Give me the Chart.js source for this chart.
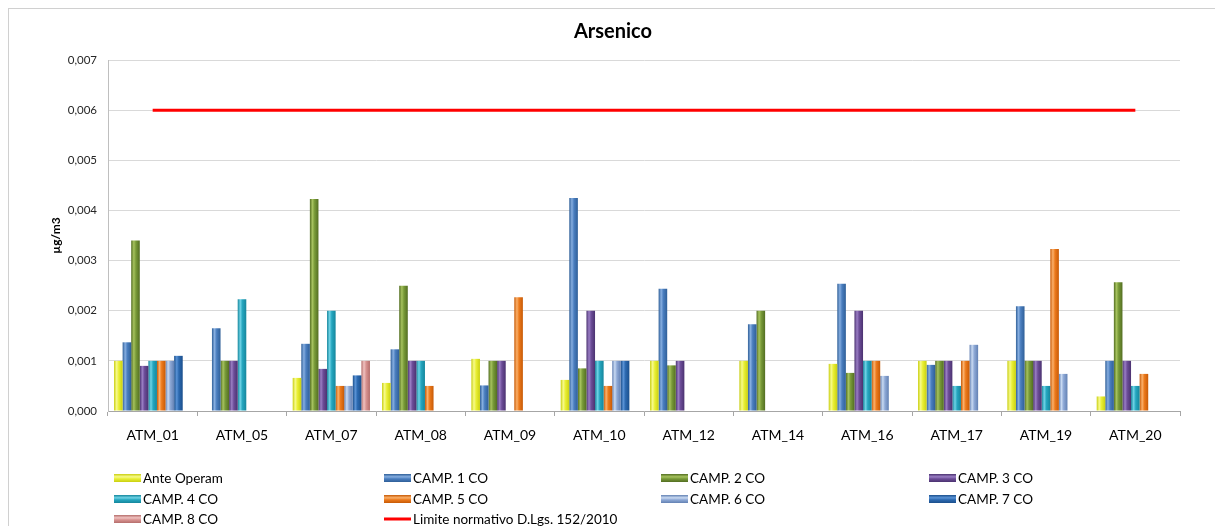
<!DOCTYPE html>
<html>
<head>
<meta charset="utf-8">
<script src="https://cdn.jsdelivr.net/npm/chart.js@4.4.1/dist/chart.umd.min.js"></script>
<style>
  html, body { margin: 0; padding: 0; background: #ffffff; }
  #wrap { width: 1215px; height: 526px; position: relative; }
</style>
</head>
<body>
<div id="wrap"><canvas id="c" width="1215" height="526"></canvas></div>
<script>
const categories = ['ATM_01', 'ATM_05', 'ATM_07', 'ATM_08', 'ATM_09', 'ATM_10', 'ATM_12', 'ATM_14', 'ATM_16', 'ATM_17', 'ATM_19', 'ATM_20'];
const anteOperam = [0.00100, null,    0.00066, 0.00056, 0.00104, 0.00062, 0.00100, 0.00100, 0.00094, 0.00100, 0.00100, 0.00029];
const camp1      = [0.00137, 0.00165, 0.00134, 0.00123, 0.00051, 0.00425, 0.00244, 0.00173, 0.00254, 0.00092, 0.00209, 0.00100];
const camp2      = [0.00340, 0.00100, 0.00423, 0.00250, 0.00100, 0.00085, 0.00091, 0.00200, 0.00076, 0.00100, 0.00100, 0.00257];
const camp3      = [0.00090, 0.00100, 0.00084, 0.00100, 0.00100, 0.00200, 0.00100, null,    0.00200, 0.00100, 0.00100, 0.00100];
const camp4      = [0.00100, 0.00223, 0.00200, 0.00100, null,    0.00100, null,    null,    0.00100, 0.00050, 0.00050, 0.00050];
const camp5      = [0.00100, null,    0.00050, 0.00050, 0.00227, 0.00050, null,    null,    0.00100, 0.00100, 0.00323, 0.00074];
const camp6      = [0.00100, null,    0.00050, null,    null,    0.00100, null,    null,    0.00070, 0.00132, 0.00074, null];
const camp7      = [0.00110, null,    0.00071, null,    null,    0.00100, null,    null,    null,    null,    null,    null];
const camp8      = [null,    null,    0.00100, null,    null,    null,    null,    null,    null,    null,    null,    null];
const limite     = [0.006, 0.006, 0.006, 0.006, 0.006, 0.006, 0.006, 0.006, 0.006, 0.006, 0.006, 0.006];
const yTicks = ['0,000', '0,001', '0,002', '0,003', '0,004', '0,005', '0,006', '0,007'];

const seriesNames = ['Ante Operam', 'CAMP. 1 CO', 'CAMP. 2 CO', 'CAMP. 3 CO', 'CAMP. 4 CO', 'CAMP. 5 CO', 'CAMP. 6 CO', 'CAMP. 7 CO', 'CAMP. 8 CO'];
const seriesData = [anteOperam, camp1, camp2, camp3, camp4, camp5, camp6, camp7, camp8];
// [edge dark, highlight, base]
const palette = [
  ['#C9CF10', '#F7FA8C', '#E9EF35'],
  ['#2F5F98', '#86AEE0', '#4A7EBF'],
  ['#536E22', '#A6C25E', '#789A38'],
  ['#4B3270', '#9A7EC4', '#6C4D98'],
  ['#15869C', '#6FD3E6', '#25A6BF'],
  ['#C75A06', '#FBB06A', '#EC7A1C'],
  ['#6381B3', '#C9DAF2', '#8EA9D6'],
  ['#1B4F8C', '#5A93D6', '#2C69B0'],
  ['#B56E6C', '#F0C2C0', '#D89391']
];

function makeGrad(ctx2d, x0, x1, cols) {
  const g = ctx2d.createLinearGradient(x0, 0, x1, 0);
  g.addColorStop(0, cols[0]);
  g.addColorStop(0.3, cols[1]);
  g.addColorStop(0.55, cols[2]);
  g.addColorStop(1, cols[0]);
  return g;
}

const FONT = 'Lato, "Open Sans", "Liberation Sans", sans-serif';

const datasets = seriesNames.map((name, i) => ({
  type: 'bar',
  label: name,
  data: seriesData[i],
  order: 2,
  borderWidth: 0,
  backgroundColor: (c) => {
    const cols = palette[i];
    if (c.type === 'data' && c.element && typeof c.element.x === 'number' && typeof c.element.width === 'number' && isFinite(c.element.x)) {
      const w = c.element.width;
      return makeGrad(c.chart.ctx, c.element.x - w / 2, c.element.x + w / 2, cols);
    }
    return cols[2];
  }
}));
datasets.push({
  type: 'line',
  label: 'Limite normativo D.Lgs. 152/2010',
  data: limite,
  order: 1,
  borderColor: '#FF0000',
  backgroundColor: '#FF0000',
  borderWidth: 3,
  pointRadius: 0,
  fill: false
});

const legendPlugin = {
  id: 'customLegend',
  beforeDraw(chart) {
    const ctx = chart.ctx;
    ctx.save();
    ctx.strokeStyle = '#D0D0D0';
    ctx.lineWidth = 1;
    ctx.strokeRect(8.5, 8.5, 1300, 600);
    ctx.restore();
  },
  afterDraw(chart) {
    const ctx = chart.ctx;
    const colText = [143, 413, 690, 958];
    const rowY = [478, 499, 519];
    ctx.save();
    ctx.font = '13.5px ' + FONT;
    ctx.textBaseline = 'middle';
    ctx.fillStyle = '#000000';
    chart.data.datasets.forEach((ds, k) => {
      const col = k % 4, row = Math.floor(k / 4);
      const tx = colText[col], y = rowY[row];
      const mx = tx - 29, mw = 27;
      if (ds.type === 'line') {
        ctx.fillStyle = '#FF0000';
        ctx.fillRect(mx, y - 1.5, mw, 3);
      } else {
        const cols = palette[k];
        const g = ctx.createLinearGradient(0, y - 4, 0, y + 4);
        g.addColorStop(0, cols[0]);
        g.addColorStop(0.35, cols[1]);
        g.addColorStop(0.6, cols[2]);
        g.addColorStop(1, cols[0]);
        ctx.fillStyle = g;
        ctx.fillRect(mx, y - 4, mw, 8);
      }
      ctx.fillStyle = '#000000';
      ctx.fillText(ds.label, tx, y + 0.5);
    });
    ctx.restore();
  }
};

const chart = new Chart(document.getElementById('c'), {
  type: 'bar',
  data: { labels: categories, datasets: datasets },
  options: {
    responsive: false,
    animation: false,
    events: [],
    layout: { padding: { left: 46, right: 35, top: 10, bottom: 0 } },
    datasets: { bar: { categoryPercentage: 0.865, barPercentage: 1.0 } },
    plugins: {
      legend: { display: false },
      tooltip: { enabled: false },
      title: {
        display: true,
        text: 'Arsenico',
        color: '#000000',
        font: { family: FONT, size: 20, weight: 'bold' },
        padding: { top: 10, bottom: 16 }
      }
    },
    scales: {
      x: {
        offset: true,
        grid: { display: true, drawOnChartArea: false, drawTicks: true, tickLength: 5, color: '#A6A6A6', offset: true },
        border: { display: true, color: '#A6A6A6' },
        ticks: { color: '#000000', font: { family: FONT, size: 14 }, padding: 11, maxRotation: 0, autoSkip: false },
        afterFit(scale) { scale.height = 115; }
      },
      y: {
        min: 0,
        max: 0.007,
        ticks: {
          stepSize: 0.001,
          color: '#262626',
          font: { family: FONT, size: 11.5 },
          padding: 11,
          callback: (v, i) => yTicks[i]
        },
        grid: { color: '#D9D9D9', drawTicks: false },
        border: { display: true, color: '#BFBFBF' },
        title: {
          display: true,
          text: 'µg/m3',
          color: '#000000',
          font: { family: FONT, size: 12, weight: 'bold' },
          padding: { top: 3, bottom: 0 }
        },
        afterFit(scale) { scale.width = 62; }
      }
    }
  },
  plugins: [legendPlugin]
});
chart.update('none');
</script>
</body>
</html>
